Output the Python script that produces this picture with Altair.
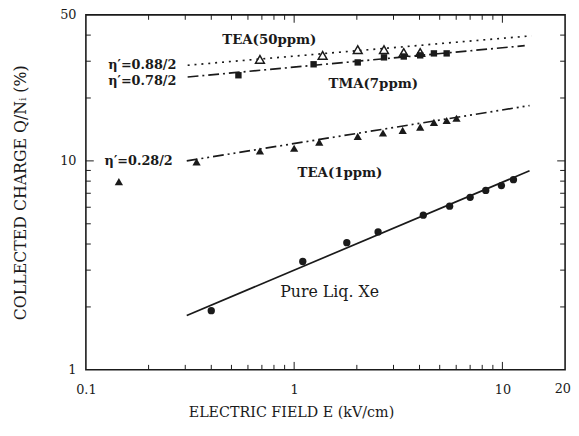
import altair as alt
import pandas as pd

# ---------------- data ----------------
# Pure liquid Xe (filled circles) and its fitted line
xe_E = [0.40, 1.10, 1.79, 2.53, 4.17, 5.58, 7.0, 8.32, 9.89, 11.3]
xe_Q = [1.92, 3.30, 4.06, 4.57, 5.50, 6.07, 6.69, 7.22, 7.62, 8.13]
xe_fit_E = [0.305, 13.5]
xe_fit_Q = [1.82, 8.97]

# TEA (1 ppm) filled triangles
tea1_E = [0.144, 0.34, 0.685, 1.0, 1.32, 2.02, 2.67, 3.32, 4.03, 4.69, 5.40, 6.02]
tea1_Q = [7.96, 9.89, 11.15, 11.5, 12.3, 13.1, 13.6, 14.0, 14.5, 15.3, 15.6, 16.0]
tea1_fit_E = [0.305, 13.5]
tea1_fit_Q = [10.0, 18.4]

# TMA (7 ppm) filled squares
tma_E = [0.54, 1.24, 2.02, 2.70, 3.36, 4.03, 4.69, 5.40]
tma_Q = [25.7, 29.0, 29.6, 31.3, 31.6, 32.0, 32.7, 32.7]
tma_fit_E = [0.308, 12.8]
tma_fit_Q = [25.2, 35.6]

# TEA (50 ppm) open triangles
tea50_E = [0.685, 1.37, 2.02, 2.70, 3.36, 4.03]
tea50_Q = [30.6, 32.0, 34.1, 34.1, 33.0, 33.0]
tea50_fit_E = [0.308, 13.8]
tea50_fit_Q = [28.7, 39.7]

# annotations
lab_center_text = ["TEA(50ppm)", "TMA(7ppm)", "TEA(1ppm)"]
lab_center_E = [0.76, 2.40, 1.66]
lab_center_Q = [38.0, 23.3, 8.78]
lab_left_text = ["η′=0.88/2", "η′=0.78/2", "η′=0.28/2"]
lab_left_E = [0.128, 0.128, 0.123]
lab_left_Q = [28.7, 24.1, 10.0]
lab_xe_text = ["Pure Liq. Xe"]
lab_xe_E = [1.48]
lab_xe_Q = [2.36]

# axis labels and minor ticks
x_labels = [0.1, 1, 10]
x_last_label = [20]
y_labels = [1, 10, 50]
x_minor = [0.2, 0.3, 0.4, 0.5, 0.6, 0.7, 0.8, 0.9, 2, 3, 4, 5, 6, 7, 8, 9]
x_major = [1, 10]
y_minor = [2, 3, 4, 5, 6, 7, 8, 9, 20, 30, 40]
y_major = [10]

# ---------------- chart ----------------
W, H = 486, 360
FONT = "DejaVu Serif"
INK = "#1a1a1a"

xscale = alt.Scale(type="log", domain=[0.1, 20], nice=False)
yscale = alt.Scale(type="log", domain=[1, 50], nice=False)
xaxis = alt.Axis(values=x_labels, format="~g", ticks=False, grid=False, domain=False,
                 labelPadding=14, labelFontSize=13, labelFont=FONT, labelColor=INK,
                 title="ELECTRIC FIELD E  (kV/cm)", titleFont=FONT, titleFontSize=14.5,
                 titleFontWeight="normal", titleColor=INK, titleX=208, titleY=36,
                 labelFlush=False)
yaxis = alt.Axis(values=y_labels, format="~g", ticks=False, grid=False, domain=False,
                 labelPadding=10, labelFontSize=13, labelFont=FONT, labelColor=INK,
                 title="COLLECTED CHARGE  Q/Nᵢ (%)", titleFont=FONT, titleFontSize=16,
                 titleFontWeight="normal", titleColor=INK, titlePadding=32)


def X(field="E"):
    return alt.X(f"{field}:Q", scale=xscale, axis=xaxis)


def Y(field="Q"):
    return alt.Y(f"{field}:Q", scale=yscale, axis=yaxis)


def df(E, Q):
    return pd.DataFrame({"E": E, "Q": Q})


layers = []

# fitted lines
line_specs = [
    (xe_fit_E, xe_fit_Q, []),
    (tea1_fit_E, tea1_fit_Q, [11, 4, 2, 4, 2, 4]),
    (tma_fit_E, tma_fit_Q, [11, 4, 2, 4]),
    (tea50_fit_E, tea50_fit_Q, [2, 5]),
]
for E, Q, dash in line_specs:
    kw = dict(color=INK, strokeWidth=1.7, clip=True)
    if dash:
        kw["strokeDash"] = dash
    layers.append(alt.Chart(df(E, Q)).mark_line(**kw).encode(x=X(), y=Y()))

# points
layers.append(alt.Chart(df(xe_E, xe_Q)).mark_point(
    shape="circle", filled=True, size=55, color=INK, opacity=1).encode(x=X(), y=Y()))
layers.append(alt.Chart(df(tea1_E, tea1_Q)).mark_point(
    shape="triangle-up", filled=True, size=70, color=INK, opacity=1).encode(x=X(), y=Y()))
layers.append(alt.Chart(df(tma_E, tma_Q)).mark_point(
    shape="square", filled=True, size=42, color=INK, opacity=1).encode(x=X(), y=Y()))
layers.append(alt.Chart(df(tea50_E, tea50_Q)).mark_point(
    shape="triangle-up", filled=False, size=80, color=INK, strokeWidth=1.5,
    opacity=1).encode(x=X(), y=Y()))

# annotations
layers.append(alt.Chart(pd.DataFrame({"E": lab_center_E, "Q": lab_center_Q, "t": lab_center_text}))
              .mark_text(font=FONT, fontSize=13.5, fontWeight="bold", color=INK, align="center",
                         baseline="middle")
              .encode(x=X(), y=Y(), text="t:N"))
layers.append(alt.Chart(pd.DataFrame({"E": lab_left_E, "Q": lab_left_Q, "t": lab_left_text}))
              .mark_text(font=FONT, fontSize=13, fontWeight="bold", color=INK, align="left",
                         baseline="middle")
              .encode(x=X(), y=Y(), text="t:N"))
layers.append(alt.Chart(pd.DataFrame({"E": lab_xe_E, "Q": lab_xe_Q, "t": lab_xe_text}))
              .mark_text(font=FONT, fontSize=16, color=INK, align="center", baseline="middle")
              .encode(x=X(), y=Y(), text="t:N"))

# last x tick label ("20"), kept inside the page edge like in the reference
layers.append(alt.Chart(pd.DataFrame({"E": x_last_label, "t": [str(v) for v in x_last_label]}))
              .mark_text(font=FONT, fontSize=13, color=INK, align="right", baseline="top", dx=6)
              .encode(x=X(), y=alt.value(H + 14), text="t:N"))

# inward ticks on all four sides
for vals, L in [(x_minor, 5), (x_major, 8)]:
    d = pd.DataFrame({"E": vals})
    layers.append(alt.Chart(d).mark_rule(color=INK, strokeWidth=1)
                  .encode(x=X(), y=alt.value(H), y2=alt.value(H - L)))
    layers.append(alt.Chart(d).mark_rule(color=INK, strokeWidth=1)
                  .encode(x=X(), y=alt.value(0), y2=alt.value(L)))
for vals, L in [(y_minor, 5), (y_major, 8)]:
    d = pd.DataFrame({"Q": vals})
    layers.append(alt.Chart(d).mark_rule(color=INK, strokeWidth=1)
                  .encode(y=Y(), x=alt.value(0), x2=alt.value(L)))
    layers.append(alt.Chart(d).mark_rule(color=INK, strokeWidth=1)
                  .encode(y=Y(), x=alt.value(W), x2=alt.value(W - L)))

chart = (alt.layer(*layers)
         .properties(width=W, height=H, autosize=alt.AutoSizeParams(type="none"),
                     padding={"left": 79, "top": 4, "right": 6, "bottom": 52},
                     background="white")
         .configure_view(stroke=INK, strokeWidth=1.6))

chart.save("out.html", embed_options={"renderer": "svg", "actions": False})
